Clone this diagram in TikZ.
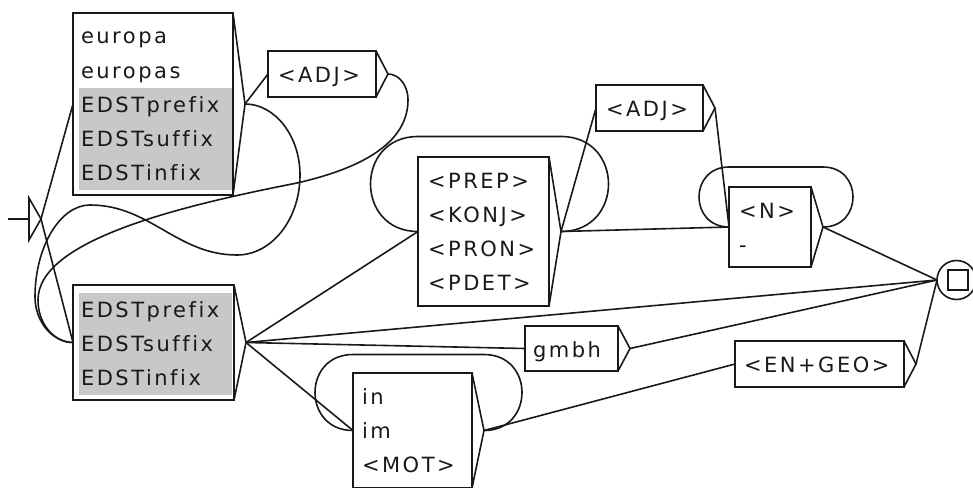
\documentclass[tikz,border=0pt]{standalone}
\usepackage{fontspec}
\setmainfont{DejaVu Sans}[LetterSpace=12, Ligatures=NoCommon]
\usetikzlibrary{calc}
\definecolor{boxgray}{RGB}{200,200,200}
\definecolor{ink}{RGB}{25,25,25}

\tikzset{
  conn/.style={line width=1.6pt, line join=round, draw=ink},
  boxframe/.style={rectangle, draw=ink, line width=2pt, inner sep=0pt, outer sep=0pt},
  boxtip/.style={line width=1.6pt, line join=miter, draw=ink},
  txt/.style={anchor=base west, inner sep=0pt, outer sep=0pt, text=ink,
              font=\fontsize{21}{34}\selectfont},
}

% box with its entry point (left middle) and exit tip (right triangle)
\newcommand\unibox[5]{%
  \node[boxframe, minimum width=#4-#2, minimum height=#5-#3, anchor=north west] (#1) at (#2,#3) {};
  \coordinate (#1-in) at (#1.west);
  \coordinate (#1-out) at ($(#1.east)+(12,0)$);
  \draw[boxtip] (#1.north east) -- (#1-out) -- (#1.south east);
}
% lines of a box, one every 34 units, starting at the first baseline
\newcommand\unitext[4]{%
  \foreach \lbl [count=\i] in {#4}
    \node[txt] (#1-t\i) at (#2, #3+34*\i-34) {\lbl};
}
% loop from a box's exit back over its top to its entry
\newcommand\uniloop[2]{%
  \draw[conn] (#1-out) .. controls +({2/3*#2},0) and +({2/3*#2},0) .. ($(#1-out)+(0,-#2)$)
    -- ($(#1-in)+(0,-#2)$)
    .. controls +({-2/3*#2},0) and +({-2/3*#2},0) .. (#1-in);
}

\begin{document}
\begin{tikzpicture}[x=1pt,y=-1pt]
\useasboundingbox (0,0) rectangle (973,487);

% shaded entries
\fill[boxgray] (79,88) rectangle (232,190);
\fill[boxgray] (79,293) rectangle (232,395);

% boxes
\unibox{A}{73}{13}{233}{195}
\unibox{ADJa}{268}{51}{376}{97}
\unibox{B}{73}{285}{234}{400}
\unibox{C}{418}{157}{549}{306}
\unibox{ADJb}{596}{85}{703}{131}
\unibox{N}{729}{187}{811}{267}
\unibox{gmbh}{525}{326}{618}{371}
\unibox{geo}{735}{341}{904}{387}
\unibox{MOT}{353}{373}{472}{488}

% box contents
\unitext{A}{81}{44}{europa,europas,EDSTprefix,EDSTsuffix,EDSTinfix}
\unitext{ADJa}{278}{82}{<ADJ>}
\unitext{B}{81}{317}{EDSTprefix,EDSTsuffix,EDSTinfix}
\unitext{C}{428}{188}{<PREP>,<KONJ>,<PRON>,<PDET>}
\unitext{ADJb}{606}{116}{<ADJ>}
\unitext{N}{739}{218}{<N>,-}
\unitext{gmbh}{533}{357}{gmbh}
\unitext{geo}{744}{372}{<EN+GEO>}
\unitext{MOT}{362}{404}{in,im,<MOT>}

% initial state
\coordinate (init-tail) at (8,219);
\coordinate (init-base) at (29,219);
\coordinate (init) at (41,219);
\draw[conn] (init-tail) -- (init-base);
\draw[boxtip] ($(init-base)+(0,-21)$) -- (init) -- ($(init-base)+(0,21)$) -- cycle;

% final state
\node[circle, draw=ink, line width=1.6pt, minimum size=39pt, inner sep=0pt, outer sep=0pt] (final) at (956.5,280) {};
\node[rectangle, draw=ink, line width=2pt, minimum size=20pt, inner sep=0pt, outer sep=0pt] (final-sq) at (958,280) {};

% transitions
\draw[conn] (init) -- (A-in);
\draw[conn] (init) -- (B-in);
\draw[conn] (A-out) -- (ADJa-in);
\draw[conn] (A-out) .. controls (275,104) and (300,136) .. (300,175)
  .. controls (300,219) and (272,255) .. (237,255)
  .. controls (177,255) and (150,205) .. (90,205)
  .. controls (60,205) and (35,247) .. (35,297)
  .. controls (35,322) and (53,342.5) .. (B-in);
\draw[conn] (ADJa-out) .. controls (398,74) and (408,84) .. (408,100)
  .. controls (408,150) and (345,172) .. (297,183)
  .. controls (180,206) and (38,240) .. (38,300)
  .. controls (38,325) and (55,342.5) .. (B-in);
\draw[conn] (B-out) -- (C-in);
\draw[conn] (B-out) -- (final.west);
\draw[conn] (B-out) -- (gmbh-in);
\draw[conn] (B-out) -- (MOT-in);
\draw[conn] (C-out) -- (ADJb-in);
\draw[conn] (C-out) -- (N-in);
\draw[conn] (ADJb-out) -- (N-in);
\draw[conn] (N-out) -- (final.west);
\draw[conn] (gmbh-out) -- (final.west);
\draw[conn] (MOT-out) -- (geo-in);
\draw[conn] (geo-out) -- (final.west);
\uniloop{C}{95}
\uniloop{N}{60}
\uniloop{MOT}{76}
\end{tikzpicture}
\end{document}
